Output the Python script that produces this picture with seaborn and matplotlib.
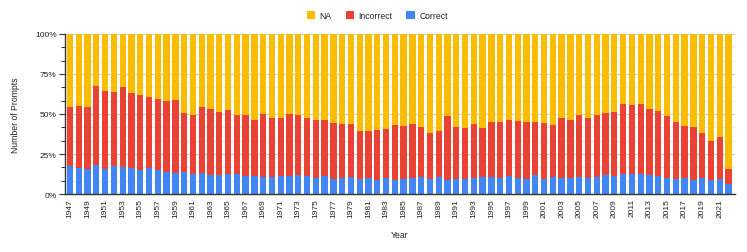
"""
Percent-stacked bar chart of prompt outcomes (Correct / Incorrect / NA) per year.
"""

import matplotlib

matplotlib.use("Agg")
import matplotlib.pyplot as plt
import pandas as pd
import seaborn as sns
from matplotlib.patches import Patch
from matplotlib.ticker import FixedLocator, FuncFormatter

# Data (percent of prompts per year)
years = list(range(1947, 2023))

correct = [
    17.3, 16.3, 15.8, 18.1, 15.8, 17.5, 16.7, 16.0, 14.8, 16.0, 14.8, 14.0, 13.3,
    13.5, 12.3, 13.1, 11.9, 11.9, 12.3, 12.5, 11.0, 11.0, 10.6,
    10.6, 11.5, 11.0, 11.9, 11.5, 9.8, 11.5, 9.4, 9.8, 10.6,
    9.4, 10.0, 8.5, 9.8, 8.9, 9.4, 9.8, 10.8, 9.4, 10.8,
    8.9, 9.4, 9.4, 9.8, 10.8, 10.8, 9.8, 11.3, 10.2, 9.4,
    11.7, 9.4, 10.8, 10.2, 9.8, 10.8, 10.2, 10.8, 12.1, 11.3,
    12.5, 12.5, 12.7, 11.7, 11.0, 10.2, 9.4, 9.8, 8.9, 9.8,
    8.7, 9.4, 6.3,
]

incorrect = [
    36.9, 38.7, 38.8, 49.4, 48.6, 46.0, 50.2, 47.1, 47.3, 44.6, 44.8, 44.3, 45.5,
    37.3, 37.3, 41.1, 41.2, 39.6, 40.4, 37.1, 38.6, 35.5, 39.4,
    36.9, 35.8, 39.2, 37.7, 36.0, 36.7, 35.0, 35.0, 34.2, 33.4,
    30.2, 29.4, 31.7, 30.8, 34.2, 33.3, 33.7, 31.3, 28.9, 28.8,
    39.9, 32.3, 32.1, 33.7, 30.2, 34.4, 35.0, 34.8, 35.4, 35.8,
    33.5, 35.0, 32.3, 37.3, 36.7, 38.4, 37.5, 38.8, 38.3, 39.9,
    43.7, 43.1, 43.5, 41.2, 40.7, 38.6, 35.4, 32.9, 32.8, 28.5,
    24.6, 26.2, 9.2,
]

na = [
    45.8, 45.0, 45.4, 32.5, 35.6, 36.5, 33.1, 36.9, 37.9, 39.4, 40.4, 41.7, 41.2,
    49.2, 50.4, 45.8, 46.9, 48.5, 47.3, 50.4, 50.4, 53.5, 50.0,
    52.5, 52.7, 49.8, 50.4, 52.5, 53.5, 53.5, 55.6, 56.0, 56.0,
    60.4, 60.6, 59.8, 59.4, 56.9, 57.3, 56.5, 57.9, 61.7, 60.4,
    51.2, 58.3, 58.5, 56.5, 59.0, 54.8, 55.2, 53.9, 54.4, 54.8,
    54.8, 55.6, 56.9, 52.5, 53.5, 50.8, 52.3, 50.4, 49.6, 48.8,
    43.8, 44.4, 43.8, 47.1, 48.3, 51.2, 55.2, 57.3, 58.3, 61.7,
    66.7, 64.4, 84.5,
]

series_names = ["NA", "Incorrect", "Correct"]
colors = {"NA": "#FBBC04", "Incorrect": "#EA4335", "Correct": "#4285F4"}

# Build table and percent-stack it
df = pd.DataFrame({"year": [str(y) for y in years], "Correct": correct,
                   "Incorrect": incorrect, "NA": na})
total = df["Correct"] + df["Incorrect"] + df["NA"]
df["top_correct"] = df["Correct"] / total * 100
df["top_incorrect"] = (df["Correct"] + df["Incorrect"]) / total * 100
df["top_na"] = (df["Correct"] + df["Incorrect"] + df["NA"]) / total * 100

sns.set_style("white")
plt.rcParams["font.family"] = ["Liberation Sans", "DejaVu Sans"]
text_color = "#222222"

fig = plt.figure(figsize=(7.47, 2.53), dpi=100)
ax = fig.add_axes([0.087, 0.229, 0.897, 0.633])

for col, name in [("top_na", "NA"), ("top_incorrect", "Incorrect"), ("top_correct", "Correct")]:
    sns.barplot(data=df, x="year", y=col, color=colors[name], saturation=1,
                width=0.72, ax=ax, linewidth=0, zorder=2)

# Axes styling
ax.set_ylim(0, 100)
ax.set_xlim(-0.57, len(years) - 0.25)
ax.yaxis.set_major_locator(FixedLocator([0, 25, 50, 75, 100]))
ax.yaxis.set_minor_locator(FixedLocator([v * 25 / 3 for v in range(13) if v % 3]))
ax.yaxis.set_major_formatter(FuncFormatter(lambda v, _: f"{v:.0f}%"))
ax.grid(axis="y", which="major", color="#cccccc", linewidth=0.8, zorder=0)
ax.grid(axis="y", which="minor", color="#ebebeb", linewidth=0.8, zorder=0)
ax.set_axisbelow(True)
ax.tick_params(axis="y", which="major", length=4, width=0.8, color="#333333",
               labelsize=6, labelcolor=text_color, pad=2, left=True)
ax.tick_params(axis="y", which="minor", length=3, width=0.8, color="#333333", left=True)

tick_idx = list(range(0, len(years), 2))
ax.set_xticks(tick_idx)
ax.set_xticklabels([str(years[i]) for i in tick_idx], rotation=90, fontsize=6,
                   color=text_color)
ax.tick_params(axis="x", length=0, pad=3)

for side in ["top", "right"]:
    ax.spines[side].set_visible(False)
for side in ["left", "bottom"]:
    ax.spines[side].set_color("#333333")
    ax.spines[side].set_linewidth(1.0)
    ax.spines[side].set_zorder(3)

ax.set_xlabel("Year", fontsize=6.2, color=text_color, labelpad=9)
ax.set_ylabel("Number of Prompts", fontsize=6.2, color=text_color, labelpad=11)

handles = [Patch(facecolor=colors[n], edgecolor="none", label=n) for n in series_names]
fig.legend(handles=handles, loc="center", bbox_to_anchor=(0.505, 0.934), ncol=3,
           frameon=False, fontsize=6.2, handlelength=1.0, handleheight=1.0,
           handletextpad=0.5, columnspacing=1.6, labelcolor=text_color)

fig.savefig("out.png", dpi=100)
plt.close(fig)
